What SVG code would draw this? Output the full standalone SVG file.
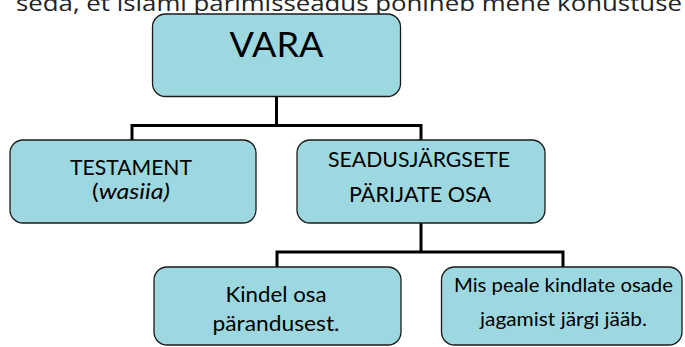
<svg xmlns="http://www.w3.org/2000/svg" width="685" height="347" viewBox="0 0 685 347">
<style>
.box{fill:#9DD8E0;stroke:#1a1a1a;stroke-width:1.3}
.t{font-family:Lato,"Open Sans",sans-serif;fill:#000;text-anchor:middle}
.c{fill:none;stroke:#000;stroke-width:3}
</style>
<rect width="685" height="347" fill="#fff"/>
<text x="16" y="10.5" font-family="'Open Sans',sans-serif" font-size="21" fill="#222" textLength="666" lengthAdjust="spacingAndGlyphs">seda, et islami pärimisseadus põhineb mene kohustuse</text>
<g id="connectors">
<path class="c" d="M276.5 97V125.5M132 140V125.5H421V140"/>
<path class="c" d="M421 222V252M277 267V252H563V267"/>
</g>
<g id="vara">
<rect class="box" x="152.5" y="14" width="248" height="82.5" rx="13"/>
<text class="t" x="276.5" y="57" font-size="35" textLength="94" lengthAdjust="spacingAndGlyphs">VARA</text>
</g>
<g id="testament">
<rect class="box" x="10" y="140" width="246" height="83" rx="13"/>
<text class="t" x="131" y="175" font-size="20.5" textLength="122" lengthAdjust="spacingAndGlyphs">TESTAMENT</text>
<text class="t" x="131" y="199" font-size="20.5" textLength="78" lengthAdjust="spacingAndGlyphs">(<tspan font-style="italic">wasiia)</tspan></text>
</g>
<g id="seadus">
<rect class="box" x="297" y="140" width="248" height="83" rx="13"/>
<text class="t" x="419" y="167" font-size="20.5" textLength="182" lengthAdjust="spacingAndGlyphs">SEADUSJÄRGSETE</text>
<text class="t" x="420" y="202" font-size="20.5" textLength="142" lengthAdjust="spacingAndGlyphs">PÄRIJATE OSA</text>
</g>
<g id="kindel">
<rect class="box" x="154" y="267" width="247" height="78" rx="13"/>
<text class="t" x="276" y="302" font-size="21.5" textLength="101" lengthAdjust="spacingAndGlyphs">Kindel osa</text>
<text class="t" x="276" y="331" font-size="21.5" textLength="127" lengthAdjust="spacingAndGlyphs">pärandusest.</text>
</g>
<g id="mis">
<rect class="box" x="441.5" y="267" width="240.5" height="78" rx="13"/>
<text class="t" x="563.5" y="292" font-size="19" textLength="219" lengthAdjust="spacingAndGlyphs">Mis peale kindlate osade</text>
<text class="t" x="563.5" y="326" font-size="19" textLength="167" lengthAdjust="spacingAndGlyphs">jagamist järgi jääb.</text>
</g>
</svg>
